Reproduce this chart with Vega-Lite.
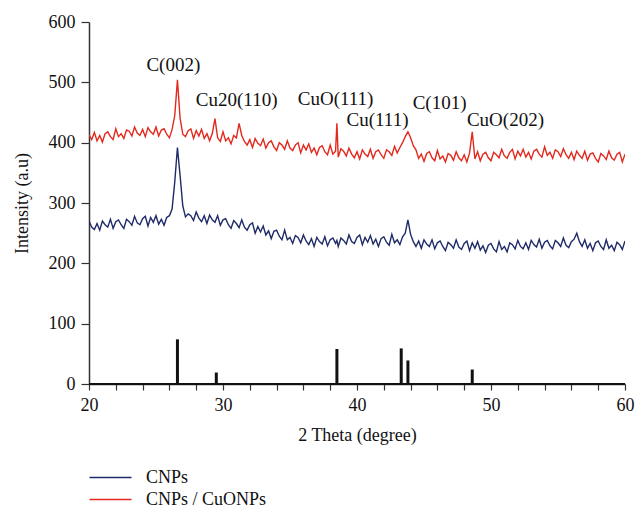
{
  "$schema": "https://vega.github.io/schema/vega-lite/v6.json",
  "width": 536,
  "height": 362,
  "autosize": {"type": "none"},
  "padding": {"left": 89, "top": 22, "right": 11, "bottom": 129},
  "config": {
    "font": "Liberation Serif",
    "view": {"stroke": null},
    "axis": {"grid": false, "labelOverlap": false, "domainColor": "#333", "domainWidth": 1.5, "tickColor": "#333", "tickWidth": 1.2, "labelColor": "#111", "titleColor": "#111", "labelFont": "Liberation Serif", "titleFont": "Liberation Serif", "labelFontSize": 18, "titleFontSize": 18, "titleFontWeight": "normal"}
  },
  "resolve": {"axis": {"x": "independent"}},
  "datasets": {
    "spec": [
      {"x":20.0,"r":413,"b":270},{"x":20.2,"r":405,"b":260},{"x":20.4,"r":417,"b":256},{"x":20.6,"r":403,"b":266},{"x":20.8,"r":412,"b":255},
      {"x":21.0,"r":401,"b":270},{"x":21.2,"r":415,"b":264},{"x":21.4,"r":418,"b":260},{"x":21.6,"r":410,"b":273},{"x":21.8,"r":405,"b":258},
      {"x":22.0,"r":423,"b":269},{"x":22.2,"r":410,"b":272},{"x":22.4,"r":415,"b":264},{"x":22.6,"r":407,"b":258},{"x":22.8,"r":421,"b":273},
      {"x":23.0,"r":419,"b":269},{"x":23.2,"r":411,"b":263},{"x":23.4,"r":426,"b":278},{"x":23.6,"r":416,"b":267},{"x":23.8,"r":412,"b":264},
      {"x":24.0,"r":422,"b":274},{"x":24.2,"r":410,"b":278},{"x":24.4,"r":425,"b":262},{"x":24.6,"r":418,"b":276},{"x":24.8,"r":414,"b":268},
      {"x":25.0,"r":426,"b":279},{"x":25.2,"r":411,"b":265},{"x":25.4,"r":421,"b":273},{"x":25.6,"r":423,"b":263},{"x":25.8,"r":414,"b":276},
      {"x":26.0,"r":408,"b":279},{"x":26.2,"r":422,"b":290},{"x":26.4,"r":445,"b":335},{"x":26.6,"r":504,"b":392},{"x":26.8,"r":440,"b":345},
      {"x":27.0,"r":414,"b":295},{"x":27.2,"r":410,"b":277},{"x":27.4,"r":420,"b":282},{"x":27.6,"r":423,"b":279},{"x":27.8,"r":407,"b":271},
      {"x":28.0,"r":420,"b":285},{"x":28.2,"r":411,"b":275},{"x":28.4,"r":422,"b":269},{"x":28.6,"r":407,"b":279},{"x":28.8,"r":415,"b":266},
      {"x":29.0,"r":403,"b":280},{"x":29.2,"r":415,"b":272},{"x":29.4,"r":440,"b":268},{"x":29.6,"r":408,"b":279},{"x":29.8,"r":402,"b":263},
      {"x":30.0,"r":418,"b":272},{"x":30.2,"r":403,"b":274},{"x":30.4,"r":408,"b":264},{"x":30.6,"r":398,"b":258},{"x":30.8,"r":412,"b":271},
      {"x":31.0,"r":408,"b":266},{"x":31.2,"r":432,"b":259},{"x":31.4,"r":412,"b":272},{"x":31.6,"r":402,"b":260},{"x":31.8,"r":396,"b":255},
      {"x":32.0,"r":405,"b":264},{"x":32.2,"r":392,"b":267},{"x":32.4,"r":407,"b":250},{"x":32.6,"r":399,"b":261},{"x":32.8,"r":395,"b":252},
      {"x":33.0,"r":406,"b":262},{"x":33.2,"r":391,"b":247},{"x":33.4,"r":400,"b":254},{"x":33.6,"r":403,"b":241},{"x":33.8,"r":393,"b":253},
      {"x":34.0,"r":387,"b":255},{"x":34.2,"r":400,"b":245},{"x":34.4,"r":396,"b":239},{"x":34.6,"r":389,"b":255},{"x":34.8,"r":403,"b":239},
      {"x":35.0,"r":391,"b":243},{"x":35.2,"r":387,"b":233},{"x":35.4,"r":396,"b":246},{"x":35.6,"r":400,"b":243},{"x":35.8,"r":383,"b":234},
      {"x":36.0,"r":396,"b":247},{"x":36.2,"r":388,"b":237},{"x":36.4,"r":398,"b":231},{"x":36.6,"r":384,"b":241},{"x":36.8,"r":391,"b":228},
      {"x":37.0,"r":380,"b":243},{"x":37.2,"r":392,"b":236},{"x":37.4,"r":395,"b":232},{"x":37.6,"r":385,"b":244},{"x":37.8,"r":380,"b":229},
      {"x":38.0,"r":396,"b":239},{"x":38.2,"r":381,"b":242},{"x":38.4,"r":386,"b":233},{"x":38.5,"r":432,"b":238},{"x":38.6,"r":376,"b":228},{"x":38.8,"r":390,"b":242},
      {"x":39.0,"r":386,"b":238},{"x":39.2,"r":378,"b":232},{"x":39.4,"r":391,"b":247},{"x":39.6,"r":381,"b":236},{"x":39.8,"r":375,"b":233},
      {"x":40.0,"r":385,"b":243},{"x":40.2,"r":373,"b":247},{"x":40.4,"r":388,"b":231},{"x":40.6,"r":381,"b":243},{"x":40.8,"r":377,"b":235},
      {"x":41.0,"r":389,"b":246},{"x":41.2,"r":374,"b":232},{"x":41.4,"r":385,"b":240},{"x":41.6,"r":388,"b":228},{"x":41.8,"r":380,"b":241},
      {"x":42.0,"r":374,"b":244},{"x":42.2,"r":388,"b":235},{"x":42.4,"r":385,"b":230},{"x":42.6,"r":379,"b":248},{"x":42.8,"r":394,"b":234},
      {"x":43.0,"r":383,"b":239},{"x":43.2,"r":392,"b":231},{"x":43.4,"r":400,"b":244},{"x":43.6,"r":410,"b":250},{"x":43.8,"r":418,"b":272},
      {"x":44.0,"r":408,"b":248},{"x":44.2,"r":395,"b":236},{"x":44.4,"r":388,"b":228},{"x":44.6,"r":374,"b":237},{"x":44.8,"r":381,"b":225},
      {"x":45.0,"r":369,"b":239},{"x":45.2,"r":382,"b":232},{"x":45.4,"r":385,"b":228},{"x":45.6,"r":375,"b":239},{"x":45.8,"r":370,"b":224},
      {"x":46.0,"r":387,"b":234},{"x":46.2,"r":373,"b":237},{"x":46.4,"r":378,"b":228},{"x":46.6,"r":368,"b":221},{"x":46.8,"r":382,"b":235},
      {"x":47.0,"r":379,"b":231},{"x":47.2,"r":371,"b":225},{"x":47.4,"r":385,"b":239},{"x":47.6,"r":375,"b":227},{"x":47.8,"r":370,"b":223},
      {"x":48.0,"r":380,"b":233},{"x":48.2,"r":368,"b":237},{"x":48.4,"r":383,"b":221},{"x":48.6,"r":418,"b":234},{"x":48.8,"r":373,"b":225},
      {"x":49.0,"r":385,"b":236},{"x":49.2,"r":370,"b":222},{"x":49.4,"r":381,"b":229},{"x":49.6,"r":384,"b":218},{"x":49.8,"r":375,"b":230},
      {"x":50.0,"r":370,"b":233},{"x":50.2,"r":384,"b":224},{"x":50.4,"r":380,"b":219},{"x":50.6,"r":375,"b":236},{"x":50.8,"r":389,"b":223},
      {"x":51.0,"r":378,"b":228},{"x":51.2,"r":374,"b":219},{"x":51.4,"r":384,"b":234},{"x":51.6,"r":389,"b":231},{"x":51.8,"r":373,"b":224},
      {"x":52.0,"r":386,"b":238},{"x":52.2,"r":378,"b":228},{"x":52.4,"r":389,"b":224},{"x":52.6,"r":376,"b":234},{"x":52.8,"r":384,"b":223},
      {"x":53.0,"r":373,"b":238},{"x":53.2,"r":386,"b":231},{"x":53.4,"r":389,"b":227},{"x":53.6,"r":381,"b":240},{"x":53.8,"r":376,"b":225},
      {"x":54.0,"r":393,"b":235},{"x":54.2,"r":379,"b":238},{"x":54.4,"r":384,"b":229},{"x":54.6,"r":374,"b":224},{"x":54.8,"r":388,"b":238},
      {"x":55.0,"r":385,"b":234},{"x":55.2,"r":377,"b":228},{"x":55.4,"r":390,"b":242},{"x":55.6,"r":380,"b":230},{"x":55.8,"r":374,"b":226},
      {"x":56.0,"r":384,"b":236},{"x":56.2,"r":372,"b":240},{"x":56.4,"r":386,"b":250},{"x":56.6,"r":379,"b":236},{"x":56.8,"r":374,"b":228},
      {"x":57.0,"r":386,"b":239},{"x":57.2,"r":371,"b":225},{"x":57.4,"r":381,"b":233},{"x":57.6,"r":383,"b":221},{"x":57.8,"r":374,"b":234},
      {"x":58.0,"r":368,"b":237},{"x":58.2,"r":382,"b":228},{"x":58.4,"r":378,"b":223},{"x":58.6,"r":372,"b":239},{"x":58.8,"r":386,"b":225},
      {"x":59.0,"r":375,"b":230},{"x":59.2,"r":371,"b":221},{"x":59.4,"r":381,"b":235},{"x":59.6,"r":384,"b":231},{"x":59.8,"r":368,"b":223},
      {"x":60.0,"r":381,"b":237}
    ],
    "sticks": [
      {"x":26.6,"h":74},{"x":29.5,"h":19},{"x":38.5,"h":58},{"x":43.3,"h":59},{"x":43.8,"h":39},{"x":48.6,"h":24}
    ],
    "labels": [
      {"x":26.29,"y":528,"t":"C(002)"},
      {"x":31.02,"y":470,"t":"Cu20(110)"},
      {"x":38.4,"y":472,"t":"CuO(111)"},
      {"x":41.53,"y":437,"t":"Cu(111)"},
      {"x":46.16,"y":465,"t":"C(101)"},
      {"x":51.08,"y":437,"t":"CuO(202)"}
    ]
  },
  "layer": [
    {
      "data": {"name": "spec"},
      "transform": [{"fold": ["b", "r"], "as": ["s", "v"]}],
      "mark": {"type": "line", "strokeWidth": 1.4, "clip": true},
      "encoding": {
        "x": {"field": "x", "type": "quantitative", "scale": {"domain": [20, 60], "nice": false, "zero": false},
          "axis": {"orient": "bottom", "title": "2 Theta (degree)", "values": [20,30,40,50,60], "tickSize": 6, "labelPadding": 6, "titlePadding": 12, "labelFlush": false}},
        "y": {"field": "v", "type": "quantitative", "scale": {"domain": [0, 600], "nice": false},
          "axis": {"title": "Intensity (a.u)", "values": [0,100,200,300,400,500,600], "tickSize": 8, "labelPadding": 6, "titlePadding": 17}},
        "color": {"field": "s", "type": "nominal",
          "scale": {"domain": ["b", "r"], "range": ["#1f2b68", "#e3281d"]},
          "legend": {"orient": "none", "legendX": 10, "legendY": 444, "title": null, "symbolType": "M-2,0H2", "symbolSize": 441, "symbolStrokeWidth": 1.5,
            "labelFont": "Liberation Serif", "labelFontSize": 18, "labelColor": "#111", "labelOffset": 24, "rowPadding": 1,
            "labelExpr": "datum.label == 'b' ? 'CNPs' : 'CNPs / CuONPs'"}}
      }
    },
    {
      "data": {"name": "sticks"},
      "mark": {"type": "rule", "color": "#111", "strokeWidth": 3},
      "encoding": {
        "x": {"field": "x", "type": "quantitative",
          "axis": {"orient": "bottom", "values": [22,24,26,28,32,34,36,38,42,44,46,48,52,54,56,58], "labels": false, "domain": false, "title": null, "tickSize": 6}},
        "y": {"field": "h", "type": "quantitative"},
        "y2": {"datum": 0}
      }
    },
    {
      "data": {"values": [{"z": 0}]},
      "mark": {"type": "rule", "color": "#111", "strokeWidth": 2},
      "encoding": {"y": {"field": "z", "type": "quantitative"}}
    },
    {
      "data": {"name": "labels"},
      "mark": {"type": "text", "font": "Liberation Serif", "fontSize": 19, "color": "#111", "align": "center", "baseline": "middle"},
      "encoding": {
        "x": {"field": "x", "type": "quantitative", "axis": null},
        "y": {"field": "y", "type": "quantitative"},
        "text": {"field": "t"}
      }
    }
  ]
}
